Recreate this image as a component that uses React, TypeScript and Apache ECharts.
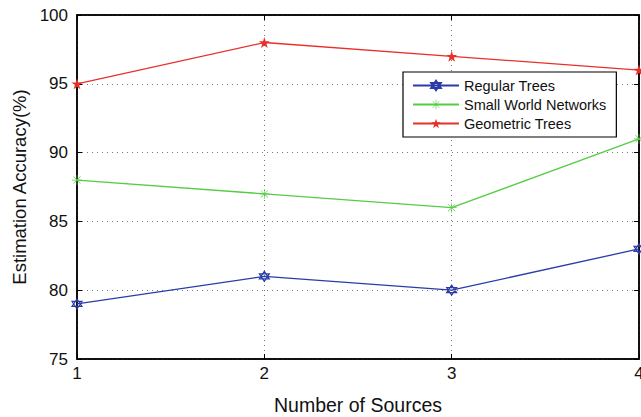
import React, { useEffect, useRef } from "react";
import * as echarts from "echarts";

const sources = [1, 2, 3, 4];
const regularTrees = [79, 81, 80, 83];
const smallWorld = [88, 87, 86, 91];
const geometricTrees = [95, 98, 97, 96];
const seriesNames = ["Regular Trees", "Small World Networks", "Geometric Trees"];

const hexagram = "path://M0,-10 L8.66,5 L-8.66,5 Z M0,10 L-8.66,-5 L8.66,-5 Z";
const asterisk =
  "path://M-0.6,-10 L0.6,-10 L0.6,10 L-0.6,10 Z M-10,-0.6 L10,-0.6 L10,0.6 L-10,0.6 Z M-7.5,-6.6 L-6.6,-7.5 L7.5,6.6 L6.6,7.5 Z M6.6,-7.5 L7.5,-6.6 L-6.6,7.5 L-7.5,6.6 Z";
const pentagram =
  "path://M0,-10 L2.245,-3.09 L9.51,-3.09 L3.63,1.18 L5.88,8.09 L0,3.82 L-5.88,8.09 L-3.63,1.18 L-9.51,-3.09 L-2.245,-3.09 Z";

const FONT = "'Liberation Sans', Arial, sans-serif";

export default function App() {
  const ref = useRef<HTMLDivElement>(null);
  useEffect(() => {
    if (!ref.current) return;
    const chart = echarts.init(ref.current, undefined, { renderer: "svg" });
    const mk = (vals: number[]) => vals.map((v, i) => [sources[i], v]);
    chart.setOption({
      animation: false,
      textStyle: { fontFamily: FONT },
      grid: {
        left: 77,
        right: 2,
        top: 15,
        bottom: 58,
        outerBoundsMode: "none",
        containLabel: false,
        show: true,
        borderColor: "#000",
        borderWidth: 1.5,
        backgroundColor: "#fff",
      },
      legend: {
        orient: "vertical",
        left: 403,
        top: 72,
        itemWidth: 46,
        itemHeight: 12,
        itemGap: 4,
        padding: [6, 10, 6, 9],
        borderColor: "#000",
        borderWidth: 1.2,
        backgroundColor: "#fff",
        borderRadius: 0,
        textStyle: { fontSize: 14.5, color: "#111", fontFamily: FONT, padding: [0, 0, 0, 0] },
        data: seriesNames,
      },
      xAxis: [
        {
          type: "value",
          min: 1,
          max: 4,
          interval: 1,
          name: "Number of Sources",
          nameLocation: "middle",
          nameGap: 36,
          nameTextStyle: { fontSize: 19.5, color: "#111", fontFamily: FONT },
          axisLine: { show: true, lineStyle: { color: "#000", width: 1.5 } },
          axisTick: { show: true, inside: true, length: 5, lineStyle: { color: "#000" } },
          axisLabel: { fontSize: 17, color: "#111", margin: 6, fontFamily: FONT },
          splitLine: { show: true, lineStyle: { color: "#777", type: [1, 4], width: 1 } },
        },
        {
          type: "value",
          position: "top",
          min: 1,
          max: 4,
          interval: 1,
          axisLine: { show: true, lineStyle: { color: "#000", width: 1.5 } },
          axisTick: { show: true, inside: true, length: 5, lineStyle: { color: "#000" } },
          axisLabel: { show: false },
          splitLine: { show: false },
        },
      ],
      yAxis: [
        {
          type: "value",
          min: 75,
          max: 100,
          interval: 5,
          name: "Estimation Accuracy(%)",
          nameLocation: "middle",
          nameGap: 42,
          nameTextStyle: { fontSize: 18.5, color: "#111", fontFamily: FONT },
          axisLine: { show: true, lineStyle: { color: "#000", width: 1.5 } },
          axisTick: { show: true, inside: true, length: 5, lineStyle: { color: "#000" } },
          axisLabel: { fontSize: 17, color: "#111", margin: 9, fontFamily: FONT },
          splitLine: { show: true, lineStyle: { color: "#777", type: [1, 4], width: 1 } },
        },
        {
          type: "value",
          position: "right",
          min: 75,
          max: 100,
          interval: 5,
          axisLine: { show: true, lineStyle: { color: "#000", width: 1.5 } },
          axisTick: { show: true, inside: true, length: 5, lineStyle: { color: "#000" } },
          axisLabel: { show: false },
          splitLine: { show: false },
        },
      ],
      series: [
        {
          name: seriesNames[0],
          type: "line",
          data: mk(regularTrees),
          symbol: hexagram,
          symbolSize: 10,
          lineStyle: { color: "#2b3ca8", width: 1.3 },
          itemStyle: { color: "rgba(255,255,255,0)", borderColor: "#2b3ca8", borderWidth: 1.2 },
          z: 3,
        },
        {
          name: seriesNames[1],
          type: "line",
          data: mk(smallWorld),
          symbol: asterisk,
          symbolSize: 10,
          lineStyle: { color: "#55cc44", width: 1.3 },
          itemStyle: { color: "#55cc44" },
          z: 3,
        },
        {
          name: seriesNames[2],
          type: "line",
          data: mk(geometricTrees),
          symbol: pentagram,
          symbolSize: 11,
          lineStyle: { color: "#e8302a", width: 1.3 },
          itemStyle: { color: "#e8302a" },
          z: 3,
        },
      ],
    });
    return () => chart.dispose();
  }, []);
  return <div ref={ref} style={{ width: 641, height: 417, position: "absolute", left: 0, top: 0 }} />;
}
